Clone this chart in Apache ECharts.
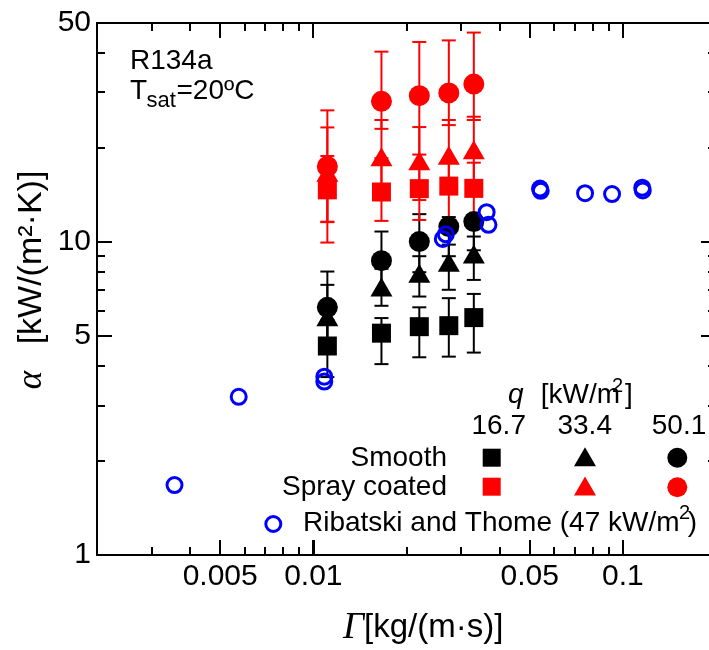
<!DOCTYPE html>
<html><head><meta charset="utf-8">
<script src="https://cdn.jsdelivr.net/npm/echarts@6/dist/echarts.min.js"></script>
<style>html,body{margin:0;padding:0;background:#fff}#c{width:709px;height:650px}</style>
</head><body><div id="c"></div>
<script>
// ---- data ----
const gamma = [0.0111, 0.0166, 0.0220, 0.0274, 0.0330];

const smoothSq   = [4.65, 5.11, 5.36, 5.40, 5.73];
const smoothSqLo = [3.70, 4.07, 4.28, 4.30, 4.43];
const smoothSqHi = [5.63, 5.71, 6.18, 6.61, 6.82];

const smoothTri   = [5.77, 7.17, 7.94, 8.61, 9.15];
const smoothTriLo = [4.50, 6.25, 6.69, 7.03, 7.56];
const smoothTriHi = [7.29, 8.20, 9.00, 9.80, 10.40];

const smoothCir   = [6.18, 8.71, 10.02, 11.19, 11.61];
const smoothCirLo = [4.40, 6.90, 8.00, 9.00, 9.40];
const smoothCirHi = [8.04, 10.79, 12.26, 12.00, 12.20];

const spraySq   = [14.66, 14.43, 14.79, 15.07, 14.82];
const spraySqLo = [11.56, 11.67, 11.75, 11.75, 11.56];
const spraySqHi = [18.80, 18.50, 17.50, 18.00, 17.90];

const sprayTri   = [16.7, 18.7, 18.15, 18.9, 19.7];
const sprayTriLo = [11.60, 13.90, 13.60, 14.50, 15.50];
const sprayTriHi = [23.20, 24.50, 23.26, 24.50, 25.10];

const sprayCir   = [17.4, 28.1, 29.3, 29.9, 31.9];
const sprayCirLo = [9.95, 22.96, 19.00, 23.60, 24.50];
const sprayCirHi = [26.3, 40.5, 43.5, 44.0, 46.6];

const ribX = [0.00356, 0.00574, 0.01085, 0.01085, 0.0262, 0.0268, 0.0363, 0.0368, 0.0540, 0.0543, 0.0755, 0.0923, 0.1155, 0.1160];
const ribY = [1.673, 3.20, 3.71, 3.58, 10.22, 10.57, 12.44, 11.34, 14.80, 14.55, 14.31, 14.21, 14.90, 14.60];

const xMajor = [0.005, 0.01, 0.05, 0.1];
const xMinor = [0.003, 0.004, 0.006, 0.007, 0.008, 0.009, 0.02, 0.03, 0.04, 0.06, 0.07, 0.08, 0.09];
const yMajor = [1, 5, 10, 50];
const yMinor = [2, 3, 4, 6, 7, 8, 9, 20, 30, 40];

const X_MIN = 0.002, X_MAX = 0.2, Y_MIN = 1, Y_MAX = 50;

// ---- helpers ----
const FONT = '"Liberation Sans", Arial, sans-serif';
const SERIF = '"Liberation Serif", "DejaVu Serif", serif';
const fmt = v => String(parseFloat(Number(v).toPrecision(4)));

function errData(lo, hi) { return gamma.map((g, i) => [g, lo[i], hi[i]]); }
function errSeries(data, color) {
  return {
    type: 'custom', silent: true,
    encode: {x: 0, y: [1, 2]},
    data: data,
    renderItem: function (params, api) {
      const x = api.value(0);
      const p1 = api.coord([x, api.value(1)]);
      const p2 = api.coord([x, api.value(2)]);
      const w = 7;
      return {type: 'group', children: [
        {type: 'line', shape: {x1: p1[0], y1: p1[1], x2: p2[0], y2: p2[1]}, style: {stroke: color, lineWidth: 2}},
        {type: 'line', shape: {x1: p1[0] - w, y1: p1[1], x2: p1[0] + w, y2: p1[1]}, style: {stroke: color, lineWidth: 2}},
        {type: 'line', shape: {x1: p2[0] - w, y1: p2[1], x2: p2[0] + w, y2: p2[1]}, style: {stroke: color, lineWidth: 2}}
      ]};
    }
  };
}
function pts(ys) { return gamma.map((g, i) => [g, ys[i]]); }
function scat(ys, symbol, size, color) {
  return {type: 'scatter', symbol: symbol, symbolSize: size,
          data: pts(ys), itemStyle: {color: color, opacity: 1}, silent: true};
}

const blackErr = [].concat(errData(smoothSqLo, smoothSqHi), errData(smoothTriLo, smoothTriHi), errData(smoothCirLo, smoothCirHi));
const redErr = [].concat(errData(spraySqLo, spraySqHi), errData(sprayTriLo, sprayTriHi), errData(sprayCirLo, sprayCirHi));

// ---- legend / annotation graphics ----
function txt(text, x, y, size, opt) {
  opt = opt || {};
  return {type: 'text', x: x, y: y, rotation: opt.rot || 0, z: 100,
          style: {text: text, fill: '#000', align: opt.align || 'left', verticalAlign: 'middle',
                  font: (opt.italic ? 'italic ' : '') + size + 'px ' + (opt.family || FONT)}};
}
function sq(cx, cy, s, c) { return {type: 'rect', z: 100, shape: {x: cx - s / 2, y: cy - s / 2, width: s, height: s}, style: {fill: c}}; }
function tri(cx, cy, w, h, c) { return {type: 'polygon', z: 100, shape: {points: [[cx - w / 2, cy + h / 2], [cx + w / 2, cy + h / 2], [cx, cy - h / 2]]}, style: {fill: c}}; }
function cir(cx, cy, r, c) { return {type: 'circle', z: 100, shape: {cx: cx, cy: cy, r: r}, style: {fill: c}}; }

const graphics = [
  txt('R134a', 130, 61, 28),
  txt('T', 130, 91, 28),
  txt('sat', 146.5, 100.7, 22),
  txt('=20ºC', 176.5, 91, 28),

  txt('q', 508, 395.5, 28, {italic: true}),
  txt('[kW/m', 620, 395.5, 28, {align: 'right'}),
  txt('2', 612, 386.5, 20),
  txt(']', 625, 395.5, 28),
  txt('16.7', 498.7, 426.3, 28, {align: 'center'}),
  txt('33.4', 584.7, 426.3, 28, {align: 'center'}),
  txt('50.1', 679, 426.3, 28, {align: 'center'}),
  txt('Smooth', 447, 458.6, 28, {align: 'right'}),
  txt('Spray coated', 447, 487, 28, {align: 'right'}),
  sq(491.7, 457.7, 18, '#000'), tri(585, 456.7, 22, 19, '#000'), cir(677.3, 457.7, 10, '#000'),
  sq(491.7, 486.7, 18, '#ff0000'), tri(585, 486, 22, 19, '#ff0000'), cir(677.3, 487.3, 10, '#ff0000'),
  {type: 'circle', z: 100, shape: {cx: 273.3, cy: 524, r: 7.5}, style: {fill: 'none', stroke: '#0000ff', lineWidth: 3}},
  txt('Ribatski and Thome (47 kW/m', 303, 523.6, 28),
  txt('2', 679, 513, 20),
  txt(')', 697, 523.6, 28, {align: 'right'}),

  txt('Γ', 364, 628, 37, {italic: true, family: SERIF, align: 'right'}),
  txt('[kg/(m·s)]', 364, 628, 33),
  txt('α', 31.7, 380, 35, {italic: true, family: SERIF, align: 'center', rot: Math.PI / 2}),
  txt('[kW/(m²·K)]', 31.7, 257.5, 34, {align: 'center', rot: Math.PI / 2})
];

const chart = echarts.init(document.getElementById('c'), null, {renderer: 'canvas'});
chart.setOption({
  animation: false,
  grid: {left: 97, top: 23, width: 619, height: 532, outerBoundsMode: 'none'},
  xAxis: [{
    type: 'log', min: X_MIN, max: X_MAX,
    axisLine: {show: true, onZero: false, lineStyle: {color: '#000', width: 2}},
    axisTick: {show: true, inside: true, length: 15, customValues: xMajor, lineStyle: {color: '#000', width: 2}},
    axisLabel: {customValues: xMajor, formatter: fmt, color: '#000', fontFamily: FONT, fontSize: 30,
                margin: 22, verticalAlign: 'middle'},
    splitLine: {show: false}
  }],
  yAxis: [{
    type: 'log', min: Y_MIN, max: Y_MAX,
    axisLine: {show: true, onZero: false, lineStyle: {color: '#000', width: 2}},
    axisTick: {show: true, inside: true, length: 15, customValues: yMajor, lineStyle: {color: '#000', width: 2}},
    axisLabel: {customValues: yMajor, formatter: fmt, color: '#000', fontFamily: FONT, fontSize: 30,
                margin: 6, verticalAlign: 'middle'},
    splitLine: {show: false}
  }],
  series: [
    errSeries(blackErr, '#000'),
    scat(smoothSq, 'rect', 19, '#000'),
    scat(smoothTri, 'triangle', [22, 19], '#000'),
    scat(smoothCir, 'circle', 21, '#000'),
    errSeries(redErr, '#ff0000'),
    scat(spraySq, 'rect', 19, '#ff0000'),
    scat(sprayTri, 'triangle', [22, 19], '#ff0000'),
    scat(sprayCir, 'circle', 21, '#ff0000'),
    {type: 'scatter', symbol: 'circle', symbolSize: 15, silent: true,
     data: ribX.map((x, i) => [x, ribY[i]]),
     itemStyle: {color: 'rgba(0,0,0,0)', borderColor: '#0000ff', borderWidth: 3, opacity: 1}}
  ]
});

// ---- frame (top/right) and inward ticks on all four sides, placed through the chart's own log scales ----
function toPx(x, y) { return chart.convertToPixel({gridIndex: 0}, [x, y]); }
function bar(x, y, w, h) {
  return {type: 'rect', z: 60, shape: {x: x, y: y, width: w, height: h}, style: {fill: '#000'}};
}
const frameEls = [];
const tl = toPx(X_MIN, Y_MAX), tr = toPx(X_MAX, Y_MAX), br = toPx(X_MAX, Y_MIN);
frameEls.push(bar(tl[0] - 1, tl[1] - 1, tr[0] - tl[0] + 2, 2));
frameEls.push(bar(tr[0] - 1, tr[1] - 1, 2, br[1] - tr[1] + 2));
function addX(vals, len) {
  vals.forEach(v => {
    const b = toPx(v, Y_MIN), t = toPx(v, Y_MAX);
    const x = Math.round(b[0]) - 1;
    frameEls.push(bar(x, Math.round(b[1]) - len, 2, len));
    frameEls.push(bar(x, Math.round(t[1]), 2, len));
  });
}
function addY(vals, len) {
  vals.forEach(v => {
    const l = toPx(X_MIN, v), r = toPx(X_MAX, v);
    const y = Math.round(l[1]) - 1;
    frameEls.push(bar(Math.round(l[0]), y, len, 2));
    frameEls.push(bar(Math.round(r[0]) - len, y, len, 2));
  });
}
addX(xMajor, 15); addX(xMinor, 8); addY(yMajor, 15); addY(yMinor, 8);
chart.setOption({graphic: graphics.concat(frameEls)});
</script></body></html>
